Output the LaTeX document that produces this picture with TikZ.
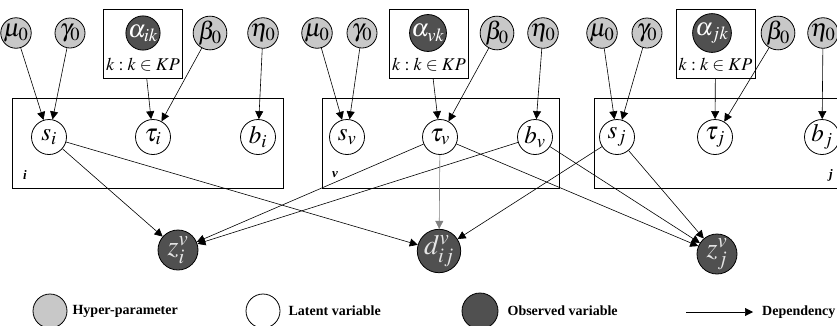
\documentclass[tikz,border=0pt]{standalone}
\usepackage{mathptmx}
\usepackage[no-math]{fontspec}
\setmainfont{Liberation Serif}
\usepackage{tikz}
\usetikzlibrary{positioning, arrows.meta}
\definecolor{hypergray}{RGB}{200,200,200}
\definecolor{obsgray}{RGB}{80,80,80}

\begin{document}
\begin{tikzpicture}[
  x=1pt, y=-1pt,
  every node/.style={inner sep=0pt},
  hyper/.style={circle, draw, thick, fill=hypergray, minimum size=30pt, font=\fontsize{25}{28}\selectfont},
  latent/.style={circle, draw, thick, fill=white, minimum size=35pt, font=\fontsize{25}{28}\selectfont},
  observed/.style={circle, draw, thick, fill=obsgray, text=white!90!black, minimum size=40pt, font=\fontsize{28}{32}\selectfont},
  alphanode/.style={circle, draw, thick, fill=obsgray, text=white, minimum size=34pt, font=\fontsize{25}{28}\selectfont},
  kpbox/.style={rectangle, draw, thick, minimum width=79pt, minimum height=69pt},
  kptext/.style={font=\fontsize{18}{20}\selectfont},
  plate/.style={draw, thick},
  platelabel/.style={font=\fontsize{13}{15}\selectfont\bfseries\itshape},
  legtext/.style={anchor=west, font=\fontsize{14}{16}\selectfont\bfseries},
  dep/.style={-{Triangle[length=8pt,width=8pt]}, semithick}
]
\useasboundingbox (0,0) rectangle (837,325);

% plates
\draw[plate] (12,98) rectangle (283,188);
\draw[plate] (322,98) rectangle (559,188);
\draw[plate] (594,98) rectangle (850,188);
\node[platelabel] (labi) at (25,175) {i};
\node[platelabel] (labv) at (335,175) {v};
\node[platelabel] (labj) at (831,175) {j};

% group i
\node[hyper] (mui) at (16,33) {$\mu_0$};
\node[hyper] (gai) at (70,33) {$\gamma_0$};
\node[kpbox] (boxi) at (143,43.5) {};
\node[alphanode] (ali) at (143,33) {$\alpha_{ik}$};
\node[kptext] (kpi) at (143,65) {$k:k\in KP$};
\node[hyper] (bei) at (210,33) {$\beta_0$};
\node[hyper] (eti) at (263,33) {$\eta_0$};
\node[latent] (si) at (49,137) {$s_i$};
\node[latent] (ti) at (153,137) {$\tau_i$};
\node[latent] (bi) at (258,137) {$b_i$};

% group v
\node[hyper] (muv) at (317,33) {$\mu_0$};
\node[hyper] (gav) at (362,33) {$\gamma_0$};
\node[kpbox] (boxv) at (429,43.5) {};
\node[alphanode] (alv) at (428,33) {$\alpha_{vk}$};
\node[kptext] (kpv) at (429,65) {$k:k\in KP$};
\node[hyper] (bev) at (497,33) {$\beta_0$};
\node[hyper] (etv) at (543,33) {$\eta_0$};
\node[latent] (sv) at (347,137) {$s_v$};
\node[latent] (tv) at (440,137) {$\tau_v$};
\node[latent] (bv) at (535,137) {$b_v$};

% group j
\node[hyper] (muj) at (602,33) {$\mu_0$};
\node[hyper] (gaj) at (647,33) {$\gamma_0$};
\node[kpbox] (boxj) at (715.5,43.5) {};
\node[alphanode] (alj) at (712,33) {$\alpha_{jk}$};
\node[kptext] (kpj) at (715.5,65) {$k:k\in KP$};
\node[hyper] (bej) at (778,33) {$\beta_0$};
\node[hyper] (etj) at (823,33) {$\eta_0$};
\node[latent] (sj) at (617,137) {$s_j$};
\node[latent] (tj) at (715,137) {$\tau_j$};
\node[latent] (bj) at (822,137) {$b_j$};

% observed
\node[observed] (zi) at (178,250) {$z_i^v$};
\node[observed] (dij) at (439,251) {$d_{ij}^v$};
\node[observed] (zj) at (717,254) {$z_j^v$};

\draw[dep] (mui) -- (si);
\draw[dep] (gai) -- (si);
\draw[dep] (boxi) -- (ti);
\draw[dep] (bei) -- (ti);
\draw[dep] (eti) -- (bi);
\draw[dep] (muv) -- (sv);
\draw[dep] (gav) -- (sv);
\draw[dep] (boxv) -- (tv);
\draw[dep] (bev) -- (tv);
\draw[dep] (etv) -- (bv);
\draw[dep] (muj) -- (sj);
\draw[dep] (gaj) -- (sj);
\draw[dep] (boxj) -- (tj);
\draw[dep] (bej) -- (tj);
\draw[dep] (etj) -- (bj);

\draw[dep] (si) -- (zi);
\draw[dep] (si) -- (dij);
\draw[dep] (tv) -- (zi);
\draw[dep] (bv) -- (zi);
\draw[dep, gray] (tv) -- (dij);
\draw[dep] (tv) -- (zj);
\draw[dep] (bv) -- (zj);
\draw[dep] (sj) -- (dij);
\draw[dep] (sj) -- (zj);

% legend
\node[hyper, minimum size=34pt] (lhyp) at (50,311) {};
\node[legtext, right=5pt of lhyp] (thyp) {Hyper-parameter};
\node[latent, minimum size=34pt] (llat) at (263,311) {};
\node[legtext, right=8pt of llat] (tlat) {Latent variable};
\node[observed, minimum size=36pt] (lobs) at (480,311) {};
\node[legtext, right=9pt of lobs] (tobs) {Observed variable};
\coordinate (ldep1) at (686,312);
\coordinate (ldep2) at (753,312);
\draw[dep] (ldep1) -- (ldep2);
\node[legtext, right=9pt of ldep2] (tdep) {Dependency};
\end{tikzpicture}
\end{document}
